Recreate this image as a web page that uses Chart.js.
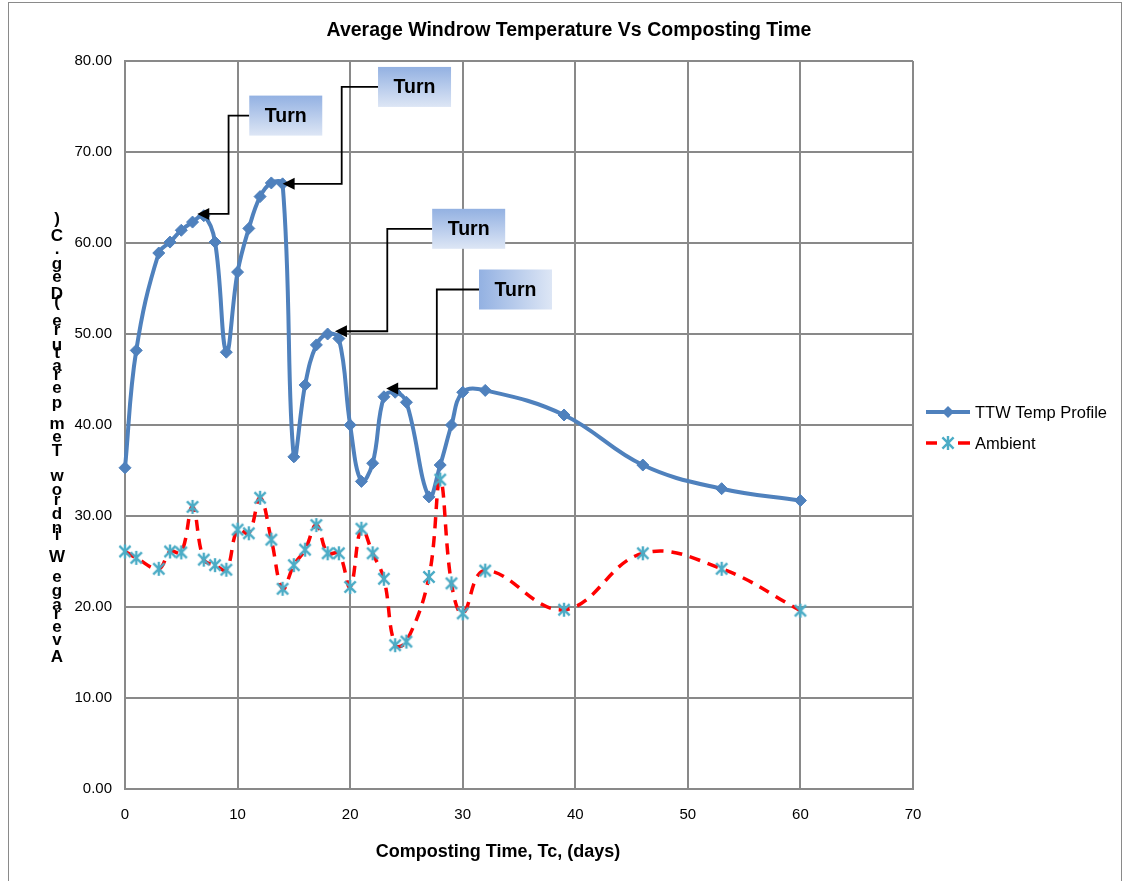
<!DOCTYPE html>
<html>
<head>
<meta charset="utf-8">
<script src="https://cdn.jsdelivr.net/npm/chart.js@4.4.1/dist/chart.umd.min.js"></script>
<style>
html,body{margin:0;padding:0;background:#fff;}
#wrap{width:1125px;height:881px;position:relative;}
</style>
</head>
<body>
<div id="wrap"><canvas id="c" width="1125" height="881"></canvas></div>
<script>
// ---- data ----
const days = [0,1,3,4,5,6,7,8,9,10,11,12,13,14,15,16,17,18,19,20,21,22,23,24,25,27,28,29,30,32,39,46,53,60];
const ttwTemp = [35.3,48.2,58.9,60.1,61.4,62.3,63.0,60.1,48.0,56.8,61.6,65.1,66.6,66.5,36.5,44.4,48.8,50.0,49.5,40.0,33.8,35.8,43.1,43.6,42.5,32.1,35.6,40.0,43.6,43.8,41.1,35.6,33.0,31.7];
const ambientTemp = [26.1,25.4,24.2,26.1,26.0,31.0,25.2,24.6,24.1,28.5,28.1,32.0,27.4,22.0,24.6,26.3,29.0,25.9,25.9,22.2,28.6,25.9,23.1,15.8,16.2,23.3,34.0,22.6,19.3,24.0,19.7,25.9,24.2,19.6];
const seriesNames = ["TTW Temp Profile","Ambient"];
const xTicks = [0,10,20,30,40,50,60,70];
const yTicks = [0,10,20,30,40,50,60,70,80];
const chartTitle = "Average Windrow Temperature Vs Composting Time";
const xTitle = "Composting Time, Tc, (days)";
const yTitle = "Average Windrow Temperature (Deg. C)";
// "Turn" callouts (data space)
const turnLabel = "Turn";
const turnTipDay = [6.42, 14.0, 18.65, 23.2];
const turnTipTemp = [63.2, 66.5, 50.3, 44.0];
const turnElbowDay = [9.2, 19.25, 23.3, 27.7];
const turnBoxDay = [14.28, 25.72, 30.53, 34.69];
const turnBoxTemp = [74.0, 77.15, 61.56, 54.89];
const turnBoxHorizontalGrad = [false, false, false, true];

const FONT = '"Liberation Sans", Arial, sans-serif';
const BLUE = '#4F81BD', RED = '#FF0000', CYAN = '#4BACC6', GRID = '#898989';

function makeAsterisk(size, color){
  const cv = document.createElement('canvas');
  cv.width = size; cv.height = size;
  const g = cv.getContext('2d');
  g.strokeStyle = color; g.lineWidth = 2.4; g.lineCap = 'butt';
  const c = size/2, r = size/2 - 1;
  g.beginPath();
  g.moveTo(c, c-r); g.lineTo(c, c+r);
  const d = r*0.8;
  g.moveTo(c-d, c-d); g.lineTo(c+d, c+d);
  g.moveTo(c+d, c-d); g.lineTo(c-d, c+d);
  g.stroke();
  return cv;
}
const asterisk = makeAsterisk(16, CYAN);

const overlay = {
  id: 'overlay',
  beforeDraw(chart){
    const ctx = chart.ctx;
    ctx.save();
    ctx.fillStyle = '#fff';
    ctx.fillRect(0,0,chart.width,chart.height);
    ctx.restore();
  },
  afterDraw(chart){
    const ctx = chart.ctx, xs = chart.scales.x, ys = chart.scales.y;
    ctx.save();
    // outer frame
    ctx.strokeStyle = '#8a8a8a'; ctx.lineWidth = 1;
    ctx.strokeRect(8.5, 2.5, 1113, 900);
    // title
    ctx.fillStyle = '#000';
    ctx.textAlign = 'center'; ctx.textBaseline = 'middle';
    ctx.font = 'bold 19.5px ' + FONT;
    ctx.fillText(chartTitle, 569, 31);
    // x title
    ctx.font = 'bold 18px ' + FONT;
    ctx.fillText(xTitle, 498, 852);
    // y title: stacked upright characters (as in reference)
    ctx.font = 'bold 17px ' + FONT;
    ctx.textBaseline = 'alphabetic';
    const chars = yTitle.split('');
    const widths = chars.map(ch => ctx.measureText(ch).width);
    let total = 0; for (let i=0;i<widths.length-1;i++) total += widths[i];
    const yBottom = 662, yTopBase = 224;
    const s = (yBottom - yTopBase)/total;
    let cum = 0;
    chars.forEach((ch,i)=>{
      ctx.fillText(ch, 57, yBottom - cum*s);
      cum += widths[i];
    });
    // legend
    ctx.textBaseline = 'middle'; ctx.textAlign = 'left';
    ctx.font = '16.5px ' + FONT;
    // TTW
    ctx.strokeStyle = BLUE; ctx.lineWidth = 4;
    ctx.beginPath(); ctx.moveTo(926, 412); ctx.lineTo(970, 412); ctx.stroke();
    ctx.fillStyle = BLUE;
    ctx.beginPath(); ctx.moveTo(948, 406); ctx.lineTo(954, 412); ctx.lineTo(948, 418); ctx.lineTo(942, 412); ctx.closePath(); ctx.fill();
    ctx.fillStyle = '#000';
    ctx.fillText(seriesNames[0], 975, 413);
    // Ambient
    ctx.strokeStyle = RED; ctx.lineWidth = 3.5;
    ctx.beginPath(); ctx.moveTo(926, 443); ctx.lineTo(937, 443); ctx.moveTo(958, 443); ctx.lineTo(970, 443); ctx.stroke();
    ctx.drawImage(asterisk, 948-8, 443-8);
    ctx.fillStyle = '#000';
    ctx.fillText(seriesNames[1], 975, 444);

    // Turn callouts
    const bw = 73, bh = 40;
    for (let i=0;i<turnTipDay.length;i++){
      const tx = xs.getPixelForValue(turnTipDay[i]);
      const ty = ys.getPixelForValue(turnTipTemp[i]);
      const ex = xs.getPixelForValue(turnElbowDay[i]);
      const cx = xs.getPixelForValue(turnBoxDay[i]);
      const cy = ys.getPixelForValue(turnBoxTemp[i]);
      const bx = cx - bw/2, by = cy - bh/2;
      // connector
      ctx.strokeStyle = '#000'; ctx.lineWidth = 1.8;
      ctx.beginPath();
      ctx.moveTo(bx, cy); ctx.lineTo(ex, cy); ctx.lineTo(ex, ty); ctx.lineTo(tx+10, ty);
      ctx.stroke();
      ctx.fillStyle = '#000';
      ctx.beginPath(); ctx.moveTo(tx, ty); ctx.lineTo(tx+12, ty-6); ctx.lineTo(tx+12, ty+6); ctx.closePath(); ctx.fill();
      // box
      const gr = turnBoxHorizontalGrad[i] ? ctx.createLinearGradient(bx,0,bx+bw,0) : ctx.createLinearGradient(0,by,0,by+bh);
      gr.addColorStop(0, '#93B1E2'); gr.addColorStop(1, '#DDE6F5');
      ctx.fillStyle = gr;
      ctx.fillRect(bx, by, bw, bh);
      ctx.fillStyle = '#000';
      ctx.font = 'bold 19.5px ' + FONT;
      ctx.textAlign = 'center'; ctx.textBaseline = 'middle';
      ctx.fillText(turnLabel, cx, cy + 1);
      ctx.textAlign = 'left';
    }
    ctx.restore();
  }
};

const ttwData = days.map((d,i)=>({x:d, y:ttwTemp[i]}));
const ambData = days.map((d,i)=>({x:d, y:ambientTemp[i]}));

new Chart(document.getElementById('c'), {
  type: 'line',
  data: {
    datasets: [
      {
        label: seriesNames[0], data: ttwData,
        borderColor: BLUE, backgroundColor: BLUE, borderWidth: 4,
        pointStyle: 'rectRot', pointRadius: 6, pointBackgroundColor: BLUE, pointBorderColor: BLUE, pointBorderWidth: 1,
        tension: 0.4, clip: false, order: 2
      },
      {
        label: seriesNames[1], data: ambData,
        borderColor: RED, backgroundColor: RED, borderWidth: 3.5, borderDash: [11, 8],
        pointStyle: asterisk, pointRadius: 8,
        tension: 0.4, clip: false, order: 1
      }
    ]
  },
  options: {
    responsive: false, animation: false,
    devicePixelRatio: 1,
    layout: { padding: { left: 0, right: 212, top: 61, bottom: 0 } },
    plugins: { legend: { display: false }, title: { display: false }, tooltip: { enabled: false } },
    scales: {
      x: {
        type: 'linear', min: 0, max: 70,
        afterBuildTicks: sc => { sc.ticks = xTicks.map(v=>({value:v})); },
        afterFit: sc => { sc.height = 92; },
        ticks: { color: '#000', font: { family: FONT, size: 15 }, padding: 17 },
        grid: { color: GRID, lineWidth: 2, drawTicks: false },
        border: { color: GRID, width: 2 }
      },
      y: {
        type: 'linear', min: 0, max: 80,
        afterBuildTicks: sc => { sc.ticks = yTicks.map(v=>({value:v})); },
        afterFit: sc => { sc.width = 125; },
        ticks: { color: '#000', font: { family: FONT, size: 15 }, padding: 13, callback: v => Number(v).toFixed(2) },
        grid: { color: GRID, lineWidth: 2, drawTicks: false },
        border: { color: GRID, width: 2 }
      }
    }
  },
  plugins: [overlay]
});
</script>
</body>
</html>
